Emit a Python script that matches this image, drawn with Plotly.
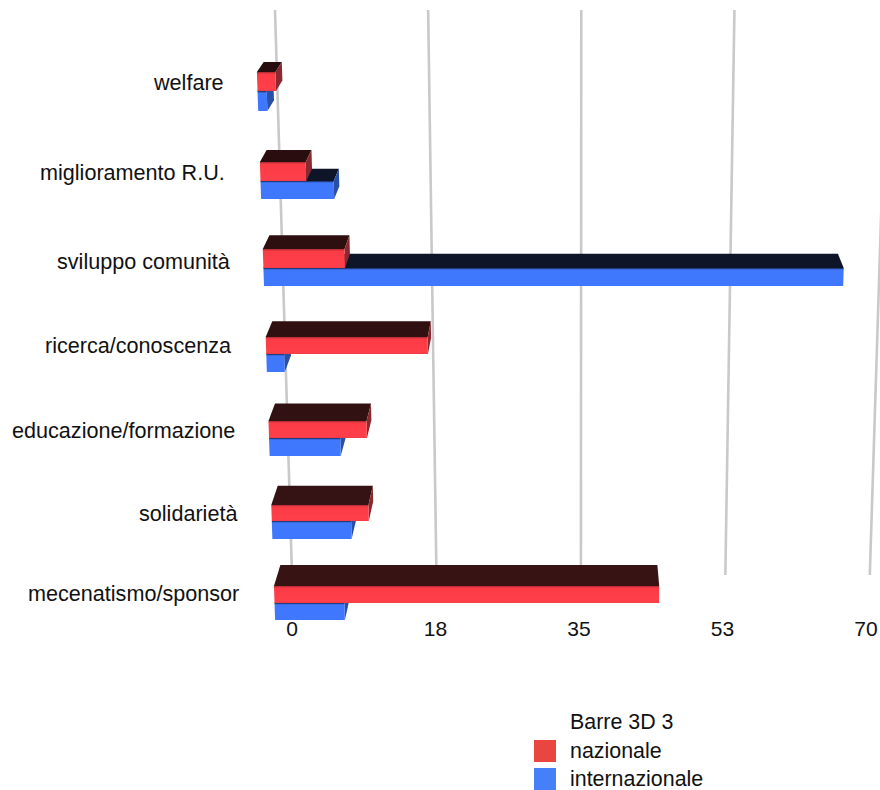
import plotly.graph_objects as go

# Share of each purpose, per cent
categories = ["welfare", "miglioramento R.U.", "sviluppo comunità", "ricerca/conoscenza",
              "educazione/formazione", "solidarietà", "mecenatismo/sponsor"]
nazionale = [2, 5, 9, 18, 11, 11, 44]
internazionale = [1, 8, 64, 2, 8, 9, 8]

tick_values = [0, 17.5, 35, 52.5, 70]
tick_labels = ["0", "18", "35", "53", "70"]

legend_title = "Barre 3D 3"
series_names = ["nazionale", "internazionale"]
legend_colors = ["#e8463f", "#4580f8"]

# Vertical placement of each row on the front plane: top, seam between the two bars, bottom
row_tops = [72, 162, 249, 337, 421, 505, 586]
row_seams = [91, 181, 268, 354, 438, 521, 603]
row_bottoms = [111, 199, 286, 372, 456, 539, 620]
# Right end of each category label and its vertical centre
label_right = [225, 226, 231.5, 232.5, 236, 239, 240]
label_mid = [82, 172, 261, 345, 430, 513, 593]

PLOT_H = 621
PX_PER_UNIT = 8.2
ZERO_PX = 292
FONT = "Liberation Sans, Helvetica, Arial, sans-serif"
LABEL_SIZE = 21.6
LEGEND_SIZE = 21.4
TICK_SIZE = 21
INK = "#111111"

# Box depth shrinks towards a vanishing point above the chart
VANISH_X, VANISH_Y, DEPTH = 574, -395, 0.0214


def to_axis(px):
    return (px - ZERO_PX) / PX_PER_UNIT


def front_x(value, y):
    return 254.5 + 0.0332 * y + value * (9.33 - 0.00098 * y)


def wall_x(value, y):
    return 274.7 + 0.0301 * y + value * (8.76 - 0.00088 * y)


def push_back(x, y):
    return x + DEPTH * (VANISH_X - x), y + DEPTH * (VANISH_Y - y)


def face(points, color=None, gradient=None):
    xs = [to_axis(p[0]) for p in points] + [to_axis(points[0][0])]
    ys = [p[1] for p in points] + [points[0][1]]
    kw = {"fillgradient": gradient} if gradient else {"fillcolor": color}
    return go.Scatter(x=xs, y=ys, mode="lines", fill="toself", line=dict(width=0),
                      hoverinfo="skip", showlegend=False, **kw)


def box(value, y0, y1, top_color, side_color, front_scale):
    fl = (front_x(0, y0), y0)
    fr = (front_x(value, y0), y0)
    flb = (front_x(0, y1), y1)
    frb = (front_x(value, y1), y1)
    traces = [face([fl, push_back(*fl), push_back(*fr), fr], top_color)]
    if fr[0] < VANISH_X:
        traces.append(face([fr, push_back(*fr), push_back(*frb), frb], side_color))
    traces.append(face([fl, fr, frb, flb],
                       gradient=dict(type="vertical", colorscale=front_scale)))
    return traces


# Front faces darken along their upper edge; on the reversed y axis that is the scale's far end
RED_FRONT = [[0, "#f23c46"], [0.12, "#ff3f4a"], [0.88, "#fb3c47"], [1, "#a92a32"]]
BLUE_FRONT = [[0, "#3f78ff"], [0.9, "#3f78fb"], [1, "#16264f"]]

fig = go.Figure()

# Back wall grid lines
for v in tick_values:
    fig.add_trace(go.Scatter(
        x=[to_axis(wall_x(v, 10)), to_axis(wall_x(v, 575))], y=[10, 575],
        mode="lines", line=dict(color="#c9c9c9", width=2.6),
        hoverinfo="skip", showlegend=False))

# Each row: the lower series first, so the upper bar's front hides its top face
for i, name in enumerate(categories):
    t = i / (len(categories) - 1)
    dark_top = f"rgb({40 + int(16 * t)},{13 + int(6 * t)},{15 + int(5 * t)})"
    for trace in box(internazionale[i], row_seams[i], row_bottoms[i],
                     "#0e1529", "#2a4fa6", BLUE_FRONT):
        fig.add_trace(trace)
    for trace in box(nazionale[i], row_tops[i], row_seams[i],
                     dark_top, "#8a2a30", RED_FRONT):
        fig.add_trace(trace)
    fig.add_annotation(x=to_axis(label_right[i]), y=label_mid[i], text=name, showarrow=False,
                       xanchor="right", yanchor="middle", xref="x", yref="y", borderpad=0,
                       font=dict(family=FONT, size=LABEL_SIZE, color=INK))


def paper_y(py):
    return 1 - py / PLOT_H


# Legend block under the chart
legend_rows = [(740, 762, 751), (768, 790, 779)]
for name, color, (top, bottom, mid) in zip(series_names, legend_colors, legend_rows):
    fig.add_shape(type="rect", xref="paper", yref="paper", x0=534 / 880, x1=556 / 880,
                  y0=paper_y(bottom), y1=paper_y(top), fillcolor=color, line=dict(width=0))
    fig.add_annotation(x=568.5 / 880, y=paper_y(mid), text=name, showarrow=False, xanchor="left",
                       yanchor="middle", xref="paper", yref="paper", borderpad=0,
                       font=dict(family=FONT, size=LEGEND_SIZE, color=INK))
fig.add_annotation(x=568.5 / 880, y=paper_y(722), text=legend_title, showarrow=False, xanchor="left",
                   yanchor="middle", xref="paper", yref="paper", borderpad=0,
                   font=dict(family=FONT, size=LEGEND_SIZE, color=INK))

fig.update_layout(
    width=880, height=790, margin=dict(l=0, r=0, t=0, b=790 - PLOT_H),
    paper_bgcolor="white", plot_bgcolor="white", showlegend=False,
    xaxis=dict(range=[to_axis(0), to_axis(880)], tickmode="array", tickvals=tick_values,
               ticktext=tick_labels, showgrid=False, zeroline=False, showline=False,
               ticks="", ticklabelstandoff=-7,
               tickfont=dict(family=FONT, size=TICK_SIZE, color=INK)),
    yaxis=dict(range=[PLOT_H, 0], visible=False),
)

fig.write_html("out.html")
